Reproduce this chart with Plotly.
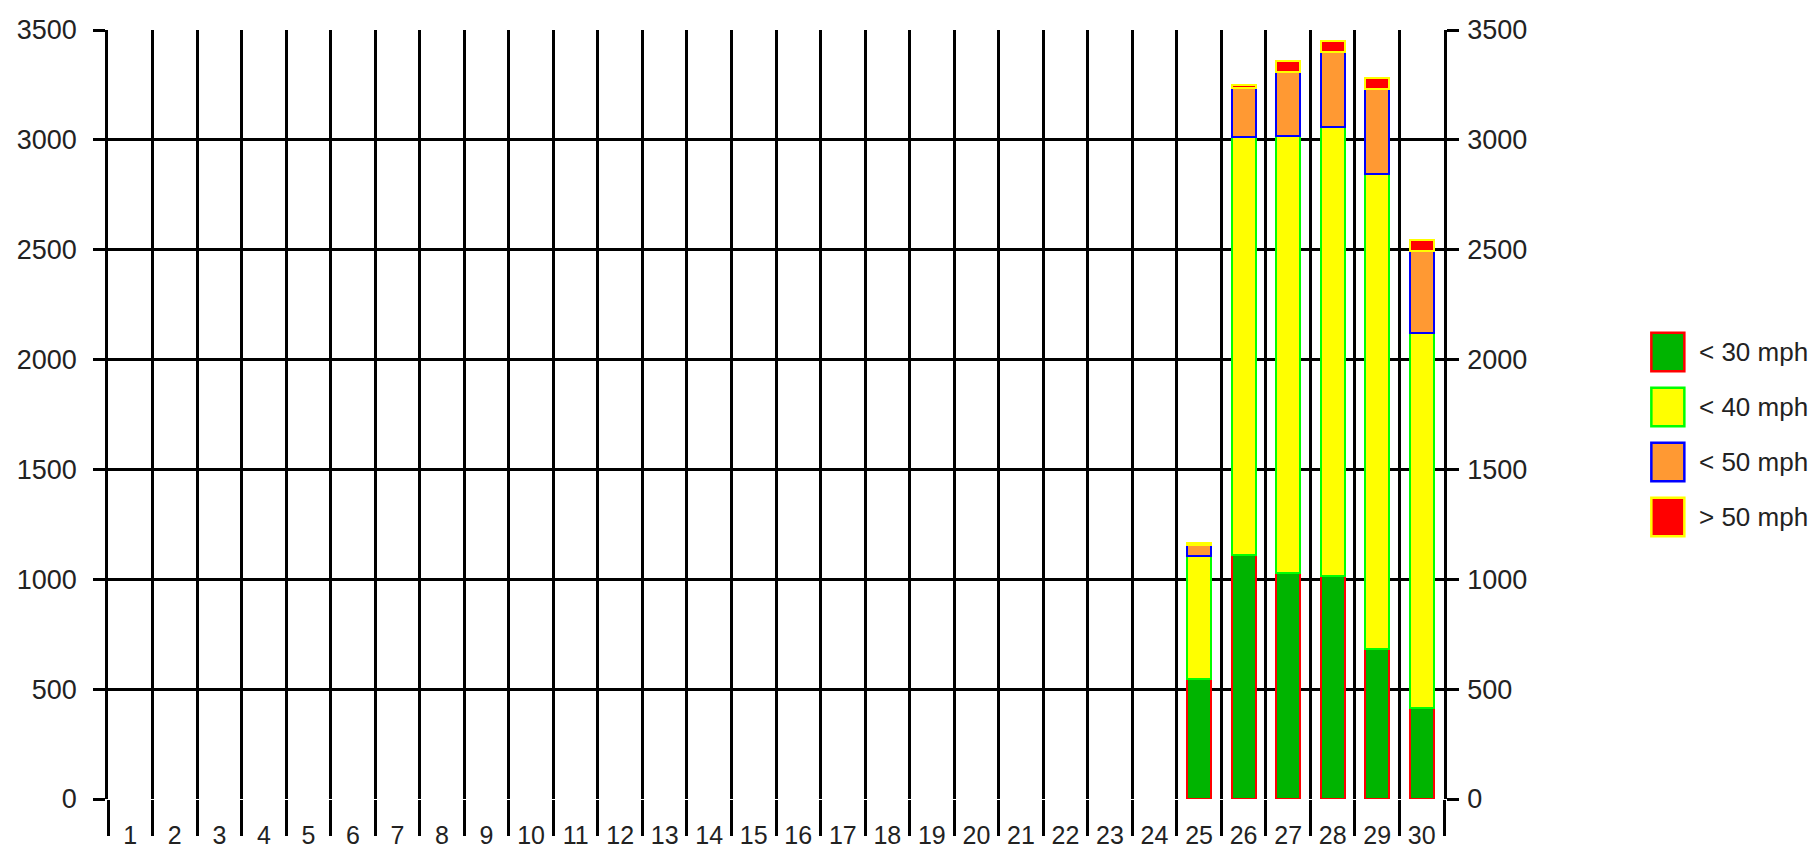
import plotly.graph_objects as go

days = [str(d) for d in range(1, 31)]
lt30 = [None] * 24 + [545, 1110, 1030, 1015, 681, 413]
lt40 = [None] * 24 + [561, 1905, 1988, 2042, 2162, 1709]
lt50 = [None] * 24 + [49, 220, 292, 344, 387, 374]
gt50 = [None] * 24 + [12, 15, 50, 50, 50, 48]

series_names = ["< 30 mph", "< 40 mph", "< 50 mph", "> 50 mph"]
fill_colors = ["#00b400", "#ffff00", "#ff9933", "#ff0000"]
line_colors = ["#ff0000", "#00ff00", "#0000ff", "#ffff00"]
y_ticks = [0, 500, 1000, 1500, 2000, 2500, 3000, 3500]

FONT = "Liberation Sans, Arial, sans-serif"
fig = go.Figure()
for name, vals, fc, lc in zip(series_names, [lt30, lt40, lt50, gt50], fill_colors, line_colors):
    fig.add_trace(go.Bar(x=days, y=vals, name=name,
                         marker=dict(color=fc, line=dict(color=lc, width=2)),
                         showlegend=False))

# empty helper trace so the mirrored right-hand value axis is drawn
fig.add_trace(go.Scatter(x=[], y=[], yaxis="y2", showlegend=False, hoverinfo="skip"))

axis_y_common = dict(range=[0, 3500], tickvals=y_ticks, ticks="outside", ticklen=12,
                     tickwidth=2.5, tickcolor="#000", showline=True, linecolor="#000",
                     linewidth=2.5, tickfont=dict(family=FONT, size=27, color="#222"),
                     fixedrange=True, automargin=False)

# page body has an 8px default margin, so the figure is offset by 8px
fig.update_layout(
    width=1808, height=842,
    margin=dict(l=100, r=372, t=22, b=51),
    paper_bgcolor="white", plot_bgcolor="white",
    barmode="stack", bargap=0.46,
    xaxis=dict(type="category", categoryorder="array", categoryarray=days,
               range=[-0.5, 29.5], tickson="boundaries", ticks="outside", ticklen=36,
               tickwidth=2.5, tickcolor="#000", showgrid=True, gridcolor="#000", gridwidth=2.5,
               showline=False, ticklabelstandoff=19, automargin=False,
               tickfont=dict(family=FONT, size=25, color="#222")),
    yaxis=dict(showgrid=True, gridcolor="#000", gridwidth=2.5, zeroline=False,
               ticklabelstandoff=11, **axis_y_common),
    yaxis2=dict(overlaying="y", side="right", anchor="x", showgrid=False, zeroline=False,
                ticklabelstandoff=3, **axis_y_common),
)

# Custom legend (large swatches like the original)
x0, x1 = 1.1552, 1.1799
centers = [0.5813, 0.5098, 0.4382, 0.3667]
half = 0.025
for name, fc, lc, cy in zip(series_names, fill_colors, line_colors, centers):
    fig.add_shape(type="rect", xref="paper", yref="paper", x0=x0, x1=x1,
                  y0=cy - half, y1=cy + half, fillcolor=fc, line=dict(color=lc, width=2.5))
    fig.add_annotation(xref="paper", yref="paper", x=1.1897, y=cy, text=name,
                       showarrow=False, xanchor="left", yanchor="middle",
                       font=dict(family=FONT, size=26, color="#222"))

fig.write_html("out.html")
